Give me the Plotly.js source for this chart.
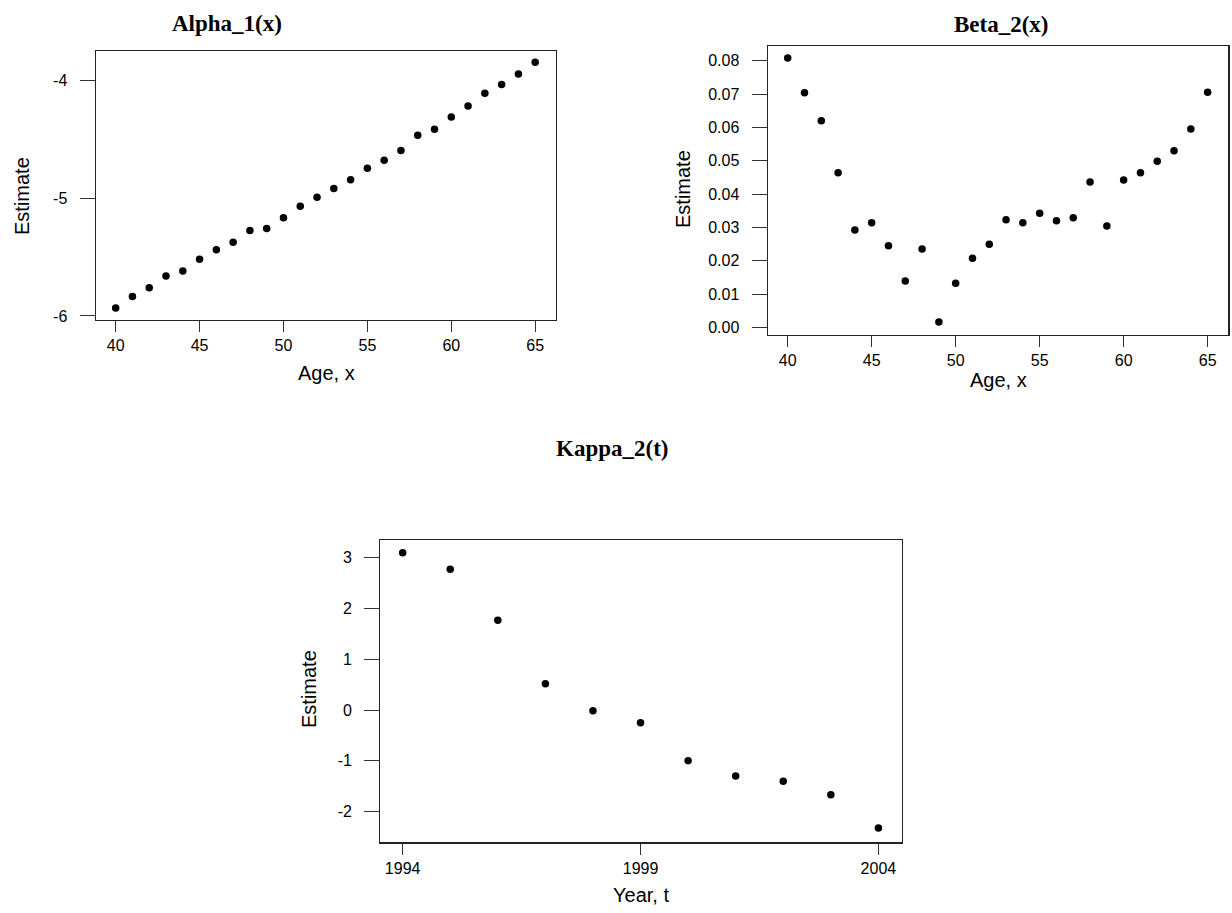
<!DOCTYPE html>
<html>
<head>
<meta charset="utf-8">
<script src="https://cdn.plot.ly/plotly-3.0.1.min.js"></script>
<style>
html,body{margin:0;padding:0;background:#fff;}
#chart{width:1232px;height:913px;}
</style>
</head>
<body>
<div id="chart"></div>
<script>
// ---- data ----
const ages = [40,41,42,43,44,45,46,47,48,49,50,51,52,53,54,55,56,57,58,59,60,61,62,63,64,65];
const alpha1 = [-5.932,-5.834,-5.760,-5.661,-5.619,-5.520,-5.439,-5.374,-5.275,-5.258,-5.168,-5.069,-4.993,-4.920,-4.846,-4.748,-4.680,-4.598,-4.468,-4.417,-4.313,-4.220,-4.113,-4.037,-3.949,-3.850];
const beta2 = [0.0808,0.0704,0.0620,0.0464,0.0292,0.0314,0.0245,0.0139,0.0235,0.0016,0.0132,0.0207,0.0249,0.0323,0.0314,0.0342,0.0320,0.0329,0.0436,0.0304,0.0442,0.0464,0.0498,0.0530,0.0595,0.0705];
const years = [1994,1995,1996,1997,1998,1999,2000,2001,2002,2003,2004];
const kappa2 = [3.097,2.769,1.765,0.518,-0.013,-0.249,-0.997,-1.299,-1.404,-1.667,-2.323];

const ageTicks = [40,45,50,55,60,65];
const ageTickText = ["40","45","50","55","60","65"];
const alphaTicks = [-6,-5,-4];
const alphaTickText = ["-6","-5","-4"];
const betaTicks = [0.00,0.01,0.02,0.03,0.04,0.05,0.06,0.07,0.08];
const betaTickText = ["0.00","0.01","0.02","0.03","0.04","0.05","0.06","0.07","0.08"];
const yearTicks = [1994,1999,2004];
const yearTickText = ["1994","1999","2004"];
const kappaTicks = [-2,-1,0,1,2,3];
const kappaTickText = ["-2","-1","0","1","2","3"];

const titles = ["Alpha_1(x)","Beta_2(x)","Kappa_2(t)"];
const xLabels = ["Age, x","Age, x","Year, t"];
const yLabel = "Estimate";

// ---- layout helpers ----
const W = 1232, H = 913;
const px = v => v / W;
const py = v => 1 - v / H;
const sans = "Liberation Sans, Arial, sans-serif";
const serif = "Liberation Serif, Times New Roman, serif";
const tickFont = {family: sans, size: 16, color: "#000"};

function axis(range, domain, vals, text, anchor, isY) {
  return {
    domain: domain, range: range, anchor: anchor,
    showgrid: false, zeroline: false,
    showline: true, mirror: true, linecolor: "#222", linewidth: 1.2,
    ticks: "outside", ticklen: isY ? 15 : 11, tickwidth: 1, tickcolor: "#333",
    tickmode: "array", tickvals: vals, ticktext: text, tickfont: tickFont,
    ticklabelstandoff: isY ? 9 : 0, fixedrange: true
  };
}

const marker = {color: "#000", size: 7.5, symbol: "circle"};

const traces = [
  {x: ages, y: alpha1, type: "scatter", mode: "markers", marker: marker, xaxis: "x", yaxis: "y"},
  {x: ages, y: beta2, type: "scatter", mode: "markers", marker: marker, xaxis: "x2", yaxis: "y2"},
  {x: years, y: kappa2, type: "scatter", mode: "markers", marker: marker, xaxis: "x3", yaxis: "y3"}
];

const titleFont = {family: serif, size: 23, color: "#000"};
const labFont = {family: sans, size: 20, color: "#000"};

function ann(text, x, y, font, angle) {
  const a = {text: text, x: px(x), y: py(y), xref: "paper", yref: "paper",
    showarrow: false, font: font, xanchor: "center", yanchor: "middle"};
  if (angle) a.textangle = angle;
  return a;
}

const layout = {
  width: W, height: H,
  margin: {l: 0, r: 0, t: 0, b: 0},
  paper_bgcolor: "#fff", plot_bgcolor: "#fff",
  showlegend: false,
  xaxis:  axis([38.81, 66.24], [px(95.7), px(556)], ageTicks, ageTickText, "y", false),
  yaxis:  axis([-6.034, -3.754], [py(320), py(51)], alphaTicks, alphaTickText, "x", true),
  xaxis2: axis([38.81, 66.23], [px(767.7), px(1228.3)], ageTicks, ageTickText, "y2", false),
  yaxis2: axis([-0.0023, 0.0845], [py(335), py(45.7)], betaTicks, betaTickText, "x2", true),
  xaxis3: axis([1993.53, 2004.5], [px(380.3), px(902.2)], yearTicks, yearTickText, "y3", false),
  yaxis3: axis([-2.604, 3.346], [py(842.3), py(540)], kappaTicks, kappaTickText, "x3", true),
  annotations: [
    ann("<b>" + titles[0] + "</b>", 227, 23, titleFont),
    ann("<b>" + titles[1] + "</b>", 1001, 24, titleFont),
    ann("<b>" + titles[2] + "</b>", 612, 448, titleFont),
    ann(xLabels[0], 326, 373, labFont),
    ann(xLabels[1], 998, 380, labFont),
    ann(xLabels[2], 641, 895, labFont),
    ann(yLabel, 22, 196, labFont, -90),
    ann(yLabel, 683, 189, labFont, -90),
    ann(yLabel, 309, 689, labFont, -90)
  ]
};

Plotly.newPlot("chart", traces, layout, {displayModeBar: false, staticPlot: true});
</script>
</body>
</html>
